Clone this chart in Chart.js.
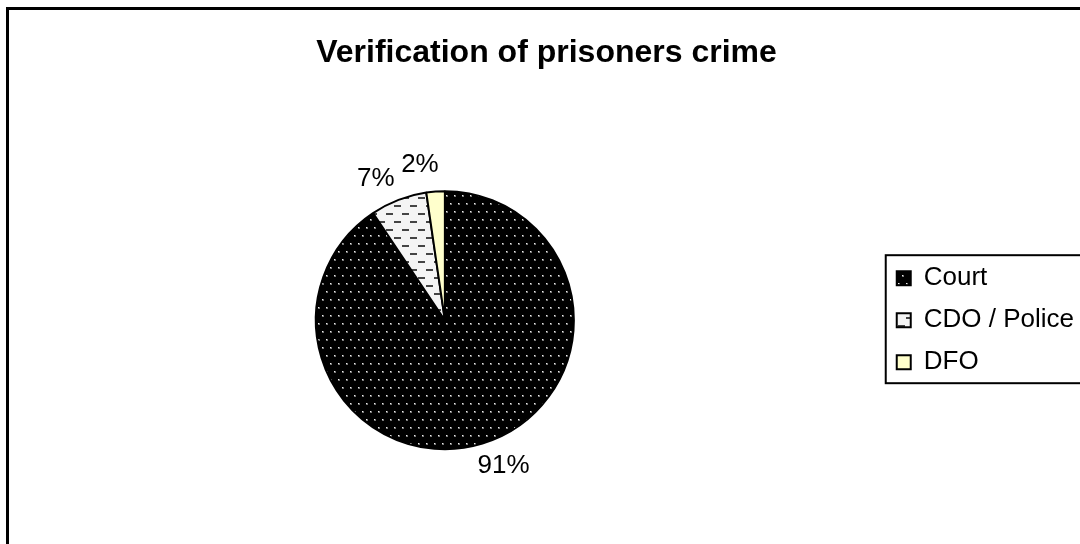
<!DOCTYPE html>
<html>
<head>
<title>Verification of prisoners crime</title>
<script src="https://cdn.jsdelivr.net/npm/chart.js"></script>
<style>
    body { margin: 0; background: #fff; overflow: hidden; }
    .frame { position: absolute; left: 6px; top: 7px; width: 1100px; height: 560px; border: 3px solid #000; }
    .box { position: absolute; left: 0; top: 0; width: 1080px; height: 540px; }
</style>
</head>
<body>
<div class="frame"><div class="box"><canvas id="chart"></canvas></div></div>
<script>
const categories = ['Court', 'CDO / Police', 'DFO'];
const shares = [90.6, 7.1, 2.3];

const FONT = 'Arial, "Liberation Sans", sans-serif';
const LABEL_TILT = 5 * Math.PI / 180;

// black with small light dots
function dotPattern() {
    const c = document.createElement('canvas');
    c.width = 8; c.height = 16;
    const g = c.getContext('2d');
    g.fillStyle = '#000'; g.fillRect(0, 0, 8, 16);
    g.fillStyle = '#777'; g.fillRect(1, 1, 2, 2); g.fillRect(5, 9, 2, 2);
    g.fillStyle = '#eee'; g.fillRect(1, 1, 1, 1); g.fillRect(5, 9, 1, 1);
    return g.createPattern(c, 'repeat');
}

// near white with short dark dashes
function dashPattern() {
    const c = document.createElement('canvas');
    c.width = 16; c.height = 16;
    const g = c.getContext('2d');
    g.fillStyle = '#f4f4f4'; g.fillRect(0, 0, 16, 16);
    g.fillStyle = '#444'; g.fillRect(1, 3, 7, 2); g.fillRect(9, 11, 7, 2);
    return g.createPattern(c, 'repeat');
}

const pctLabels = {
    id: 'pctLabels',
    afterDatasetsDraw(chart) {
        const ctx = chart.ctx;
        const total = shares.reduce((a, b) => a + b, 0);
        ctx.save();
        ctx.font = '26px ' + FONT;
        ctx.fillStyle = '#000';
        ctx.textAlign = 'center';
        ctx.textBaseline = 'middle';
        chart.getDatasetMeta(0).data.forEach((arc, i) => {
            const p = arc.getProps(['x', 'y', 'startAngle', 'endAngle', 'outerRadius'], true);
            const mid = (p.startAngle + p.endAngle) / 2 - LABEL_TILT;
            const d = p.outerRadius + 28;
            ctx.fillText(Math.round(shares[i] / total * 100) + '%', p.x + Math.cos(mid) * d, p.y + Math.sin(mid) * d);
        });
        ctx.restore();
    }
};

// box round the legend, like the original
const legendFrame = {
    id: 'legendFrame',
    afterDraw(chart) {
        const hb = chart.legend.legendHitBoxes;
        if (!hb || !hb.length) return;
        const first = hb[0], last = hb[hb.length - 1];
        const ctx = chart.ctx;
        ctx.save();
        ctx.strokeStyle = '#000';
        ctx.lineWidth = 2;
        ctx.strokeRect(first.left - 11, first.top - 10, chart.width, last.top + last.height - first.top + 18);
        ctx.restore();
    }
};

new Chart(document.getElementById('chart'), {
    type: 'pie',
    data: {
        labels: categories,
        datasets: [{
            data: shares,
            backgroundColor: [dotPattern(), dashPattern(), '#FFFFCC'],
            borderColor: '#000',
            borderWidth: 2,
            radius: 129
        }]
    },
    options: {
        responsive: true,
        maintainAspectRatio: false,
        animation: false,
        layout: { padding: { left: 0, right: 5, top: 0, bottom: 0 } },
        plugins: {
            title: {
                display: true,
                text: 'Verification of prisoners crime',
                color: '#000',
                font: { size: 32, weight: 'bold', family: FONT },
                padding: { top: 24, bottom: 18 }
            },
            legend: {
                position: 'right',
                fullSize: false,
                labels: {
                    color: '#000',
                    font: { size: 26, family: FONT },
                    boxWidth: 14,
                    boxHeight: 14,
                    padding: 16
                }
            },
            tooltip: { enabled: false }
        }
    },
    plugins: [pctLabels, legendFrame]
});
</script>
</body>
</html>
